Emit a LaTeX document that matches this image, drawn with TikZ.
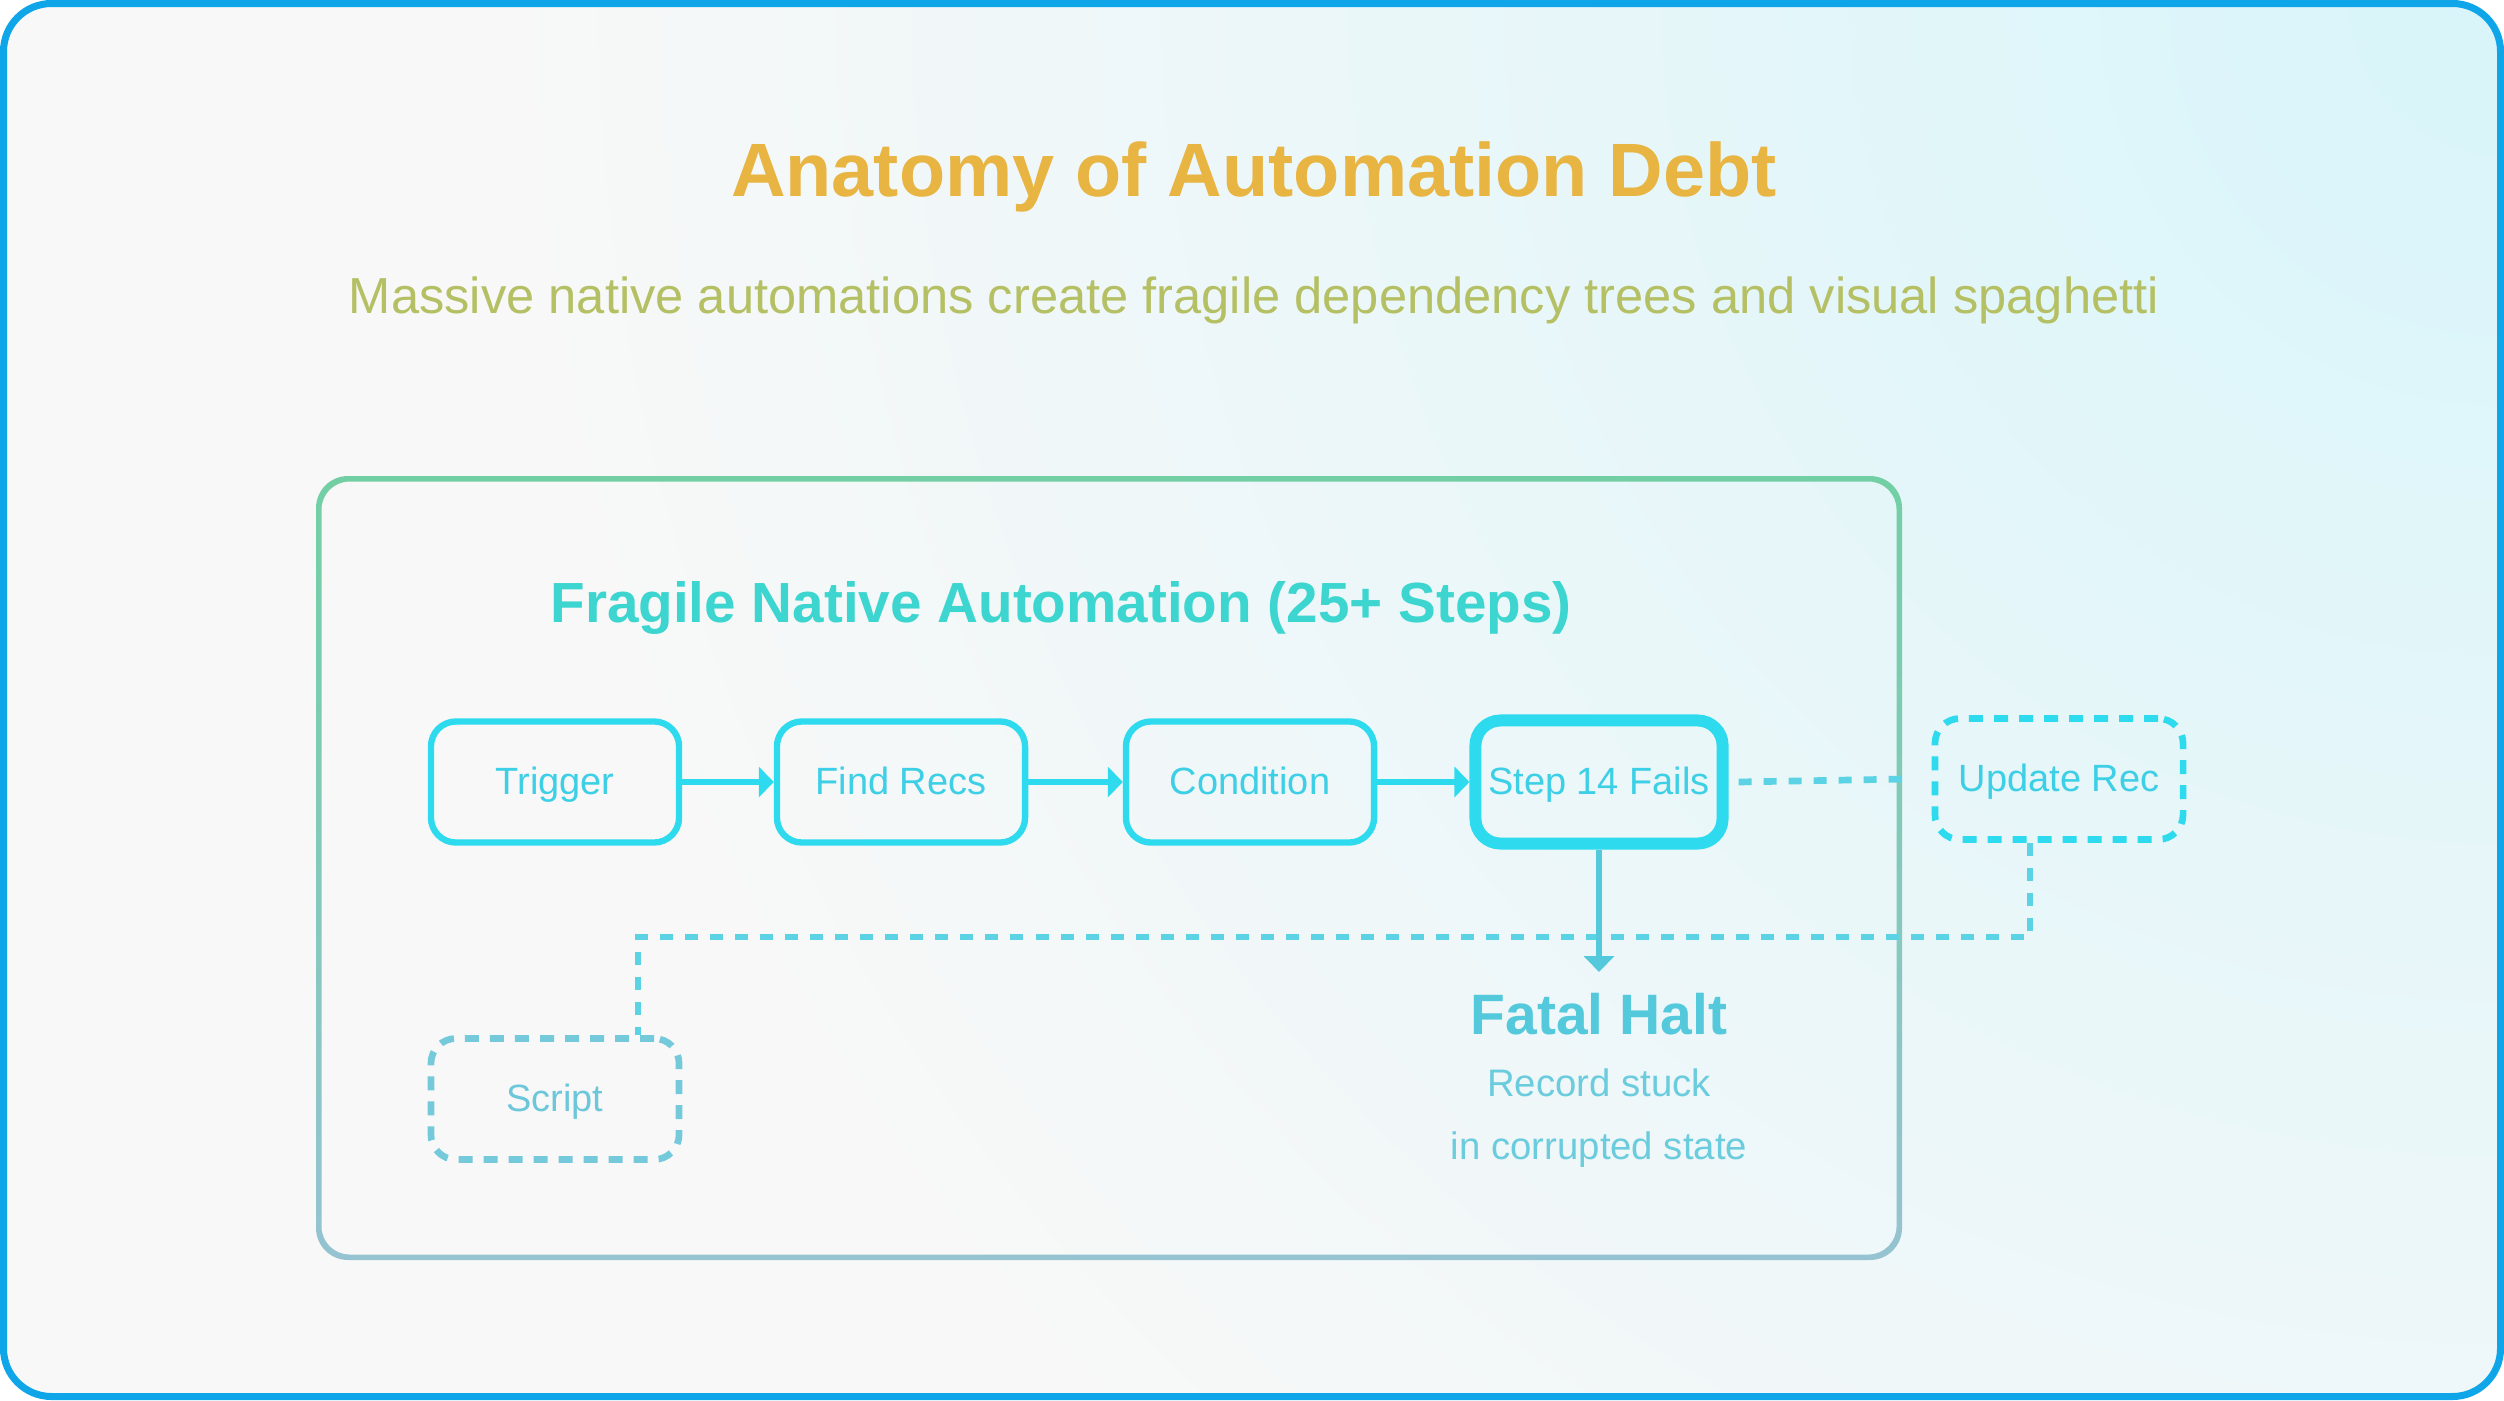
\documentclass[tikz,border=0pt]{standalone}
\usepackage{fontspec}
\setmainfont{Liberation Sans}
\usetikzlibrary{arrows.meta,calc,shadings}
\definecolor{frameblue}{HTML}{0EA5E9}
\definecolor{titlegold}{HTML}{E8B442}
\definecolor{subolive}{HTML}{B5C064}
\definecolor{innertitle}{HTML}{3DD5CF}
\definecolor{nodecyan}{HTML}{2DDAEE}
\definecolor{nodetext}{HTML}{3CCFE6}
\definecolor{dashcyan}{HTML}{5BD3E4}
\definecolor{scriptcol}{HTML}{74C9DA}
\definecolor{scripttext}{HTML}{6DC7DA}
\definecolor{fatalcol}{HTML}{55C9DC}
\definecolor{fataltext}{HTML}{6BCCDD}
\definecolor{bgbase}{HTML}{F8F8F8}
\definecolor{bgglow}{HTML}{D8F5FA}
\definecolor{boxtop}{HTML}{72CFA4}
\definecolor{boxmid}{HTML}{2EDBEC}
\definecolor{boxbot}{HTML}{95C3D1}
\tikzset{
  stepbox/.style={draw=nodecyan, line width=1.8pt, rounded corners=0.25cm,
    minimum width=2.48cm, minimum height=1.21cm, text=nodetext,
    font=\fontsize{10.8}{12}\selectfont, inner sep=0pt,
    text height=0.72em, text depth=0pt},
  failbox/.style={stepbox, line width=3.4pt, minimum width=2.47cm, minimum height=1.23cm},
  ghostbox/.style={stepbox, dash pattern=on 0.14cm off 0.11cm, line width=1.9pt},
  flow/.style={draw=nodecyan, line width=1.5pt, -{Triangle[length=0.15cm,width=0.3cm]}},
  dashline/.style={draw=dashcyan, line width=1.9pt, dash pattern=on 0.13cm off 0.12cm},
}
\begin{document}
\begin{tikzpicture}[x=0.01cm,y=-0.01cm]
\useasboundingbox (0,0) rectangle (2504,1400);
\fill[white] (0,0) rectangle (2504,1400);
\begin{scope}
  \clip[rounded corners=0.48cm] (3,3) rectangle (2501,1397);
  \fill[bgbase] (0,0) rectangle (2504,1400);
  \shade[inner color=bgglow, outer color=bgbase] (2504,0) circle (2000);
\end{scope}
\draw[frameblue, line width=2pt, rounded corners=0.48cm] (3.5,3.5) rectangle (2500.5,1396.5);

% titles
\node[text=titlegold, font=\bfseries\fontsize{21.5}{26}\selectfont] (title) at (1254,177) {Anatomy of Automation Debt};
\node[text=subolive, font=\fontsize{14.4}{17}\selectfont] (sub) at (1254,300) {Massive native automations create fragile dependency trees and visual spaghetti};

% inner container with gradient border
\shade[top color=boxtop, middle color=boxmid, bottom color=boxbot, even odd rule]
  [rounded corners=0.32cm] (316,476) rectangle (1902,1260)
  [rounded corners=0.28cm] (321.5,481.5) rectangle (1896.5,1254.5);

\node[text=innertitle, font=\bfseries\fontsize{16.1}{19}\selectfont] (itl) at (1061,608) {Fragile Native Automation (25+ Steps)};

% nodes
\node[stepbox] (trig) at (555,782) {Trigger};
\node[stepbox] (find) at (901,782) {Find Recs};
\node[stepbox] (cond) at (1250,782) {Condition};
\node[failbox] (fail) at (1599,782) {Step 14 Fails};
\node[ghostbox] (upd) at (2059,779) {Update Rec};
\node[ghostbox, draw=scriptcol, text=scripttext] (scr) at (555,1099) {Script};

\node[text=fatalcol, font=\bfseries\fontsize{16.2}{19}\selectfont] (fatal) at (1599,1014) {Fatal Halt};
\node[text=fataltext, font=\fontsize{10.9}{13}\selectfont] (rs) at (1599,1083) {Record stuck};
\node[text=fataltext, font=\fontsize{10.9}{13}\selectfont] (ics) at (1599,1150) {in corrupted state};

% connectors
\draw[flow] (trig) -- (find);
\draw[flow] (find) -- (cond);
\draw[flow] (cond) -- (fail);

\draw[dashline] ([xshift=0.1cm]fail.east) -- ([xshift=-0.26cm]upd.west);

\coordinate (ua) at ([xshift=-0.29cm]upd.south);
\coordinate (sa) at ([xshift=0.83cm]scr.north);
\coordinate (midy) at (0,937);
\draw[dashline] (ua) -- (ua |- midy) -| (sa);

\coordinate (tipy) at (0,972);
\draw[flow, draw=fatalcol, -{Triangle[length=0.16cm,width=0.3cm]}, fatalcol] (fail.south) -- (fail.south |- tipy);
\end{tikzpicture}
\end{document}
